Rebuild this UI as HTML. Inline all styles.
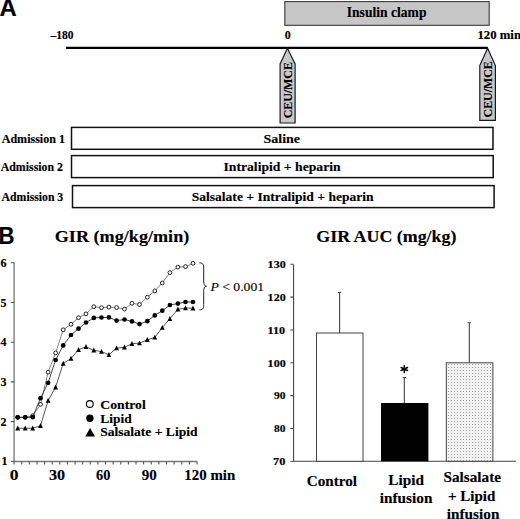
<!DOCTYPE html>
<html><head><meta charset="utf-8"><style>
html,body{margin:0;padding:0;background:#fff;width:520px;height:519px;overflow:hidden;}
svg{display:block;}
text{font-family:"Liberation Serif",serif;font-weight:bold;fill:#000;stroke:#000;stroke-width:0.15px;}
text.lbl{font-family:"Liberation Sans",sans-serif;}
</style></head><body>
<svg width="520" height="519" viewBox="0 0 520 519">
<defs><pattern id="dots" width="3" height="3" patternUnits="userSpaceOnUse"><rect width="3" height="3" fill="#f2f2f2"/><rect x="1" y="1" width="1" height="1" fill="#a4a4a4"/></pattern></defs>
<rect x="284.8" y="1.6" width="204.4" height="23.7" fill="#c6c6c6" stroke="#333" stroke-width="1.05"/>
<line x1="66" y1="47.9" x2="487.8" y2="47.9" stroke="#000" stroke-width="2.1"/>
<polygon points="287.4,48.3 295.1,63.9 295.1,123.0 280.1,123.0 280.1,63.9" fill="#c8c8c8" stroke="#1a1a1a" stroke-width="1.2"/>
<polygon points="487.6,48.3 495.4,65.6 495.4,120.4 479.8,120.4 479.8,65.6" fill="#c8c8c8" stroke="#1a1a1a" stroke-width="1.2"/>
<text transform="translate(291.6,118.3) rotate(-90) scale(1.036,1)" font-size="11.5">CEU/MCE</text>
<text transform="translate(491.8,117.4) rotate(-90) scale(1.034,1)" font-size="11.5">CEU/MCE</text>
<rect x="71.5" y="127.4" width="421.5" height="21.9" fill="#fff" stroke="#111" stroke-width="1.5"/>
<rect x="71.5" y="155.6" width="421.7" height="22.0" fill="#fff" stroke="#111" stroke-width="1.5"/>
<rect x="72.5" y="185.6" width="421.6" height="22.0" fill="#fff" stroke="#111" stroke-width="1.5"/>
<path d="M14.1,262.5 V461.5 H197.2" fill="none" stroke="#777" stroke-width="1.3"/>
<path d="M10.8,461.3H14.2 M10.8,421.6H14.2 M10.8,381.9H14.2 M10.8,342.2H14.2 M10.8,302.5H14.2 M10.8,262.8H14.2 M14.1,461.5V464.5 M21.7,461.5V464.5 M29.3,461.5V464.5 M37.0,461.5V464.5 M44.6,461.5V464.5 M52.2,461.5V464.5 M59.8,461.5V464.5 M67.4,461.5V464.5 M75.1,461.5V464.5 M82.7,461.5V464.5 M90.3,461.5V464.5 M97.9,461.5V464.5 M105.5,461.5V464.5 M113.2,461.5V464.5 M120.8,461.5V464.5 M128.4,461.5V464.5 M136.0,461.5V464.5 M143.6,461.5V464.5 M151.3,461.5V464.5 M158.9,461.5V464.5 M166.5,461.5V464.5 M174.1,461.5V464.5 M181.7,461.5V464.5 M189.4,461.5V464.5 M197.0,461.5V464.5" stroke="#555" stroke-width="1.1" fill="none"/>
<polyline points="17.7,417.3 25.2,417.3 32.7,415.8 40.5,404.4 48.1,372.1 55.6,352.9 63.2,329.8 71.0,324.3 78.5,317.7 86.0,313.9 93.8,306.7 101.5,307.7 108.9,307.1 116.6,307.6 124.5,309.1 132.0,303.3 139.5,304.5 147.3,297.2 154.8,290.9 162.3,283.0 169.9,272.6 177.9,267.1 185.5,266.6 193.0,263.3" fill="none" stroke="#777" stroke-width="0.9"/>
<polyline points="17.7,417.3 25.2,417.3 32.7,417.2 40.5,398.2 48.1,382.8 55.6,360.0 63.2,345.4 71.0,335.0 78.5,328.7 86.0,322.5 93.8,317.9 101.5,317.5 108.9,317.4 116.6,320.6 124.5,319.5 132.0,321.4 139.5,324.1 147.3,321.2 154.8,315.4 162.3,310.7 169.9,305.0 177.9,303.6 185.5,302.0 193.0,302.0" fill="none" stroke="#333" stroke-width="0.9"/>
<polyline points="17.7,428.2 25.2,428.2 32.7,428.2 40.5,425.8 48.1,400.5 55.6,387.2 63.2,363.5 71.0,358.5 78.5,349.7 86.0,346.8 93.8,350.3 101.5,351.6 108.9,354.7 116.6,348.1 124.5,347.3 132.0,343.7 139.5,343.1 147.3,339.8 154.8,337.4 162.3,327.6 169.9,318.7 177.9,309.3 185.5,308.0 193.0,308.2" fill="none" stroke="#444" stroke-width="0.9"/>
<circle cx="17.7" cy="417.3" r="1.9" fill="#fff" stroke="#000" stroke-width="0.85"/>
<circle cx="25.2" cy="417.3" r="1.9" fill="#fff" stroke="#000" stroke-width="0.85"/>
<circle cx="32.7" cy="415.8" r="1.9" fill="#fff" stroke="#000" stroke-width="0.85"/>
<circle cx="40.5" cy="404.4" r="1.9" fill="#fff" stroke="#000" stroke-width="0.85"/>
<circle cx="48.1" cy="372.1" r="1.9" fill="#fff" stroke="#000" stroke-width="0.85"/>
<circle cx="55.6" cy="352.9" r="1.9" fill="#fff" stroke="#000" stroke-width="0.85"/>
<circle cx="63.2" cy="329.8" r="1.9" fill="#fff" stroke="#000" stroke-width="0.85"/>
<circle cx="71.0" cy="324.3" r="1.9" fill="#fff" stroke="#000" stroke-width="0.85"/>
<circle cx="78.5" cy="317.7" r="1.9" fill="#fff" stroke="#000" stroke-width="0.85"/>
<circle cx="86.0" cy="313.9" r="1.9" fill="#fff" stroke="#000" stroke-width="0.85"/>
<circle cx="93.8" cy="306.7" r="1.9" fill="#fff" stroke="#000" stroke-width="0.85"/>
<circle cx="101.5" cy="307.7" r="1.9" fill="#fff" stroke="#000" stroke-width="0.85"/>
<circle cx="108.9" cy="307.1" r="1.9" fill="#fff" stroke="#000" stroke-width="0.85"/>
<circle cx="116.6" cy="307.6" r="1.9" fill="#fff" stroke="#000" stroke-width="0.85"/>
<circle cx="124.5" cy="309.1" r="1.9" fill="#fff" stroke="#000" stroke-width="0.85"/>
<circle cx="132.0" cy="303.3" r="1.9" fill="#fff" stroke="#000" stroke-width="0.85"/>
<circle cx="139.5" cy="304.5" r="1.9" fill="#fff" stroke="#000" stroke-width="0.85"/>
<circle cx="147.3" cy="297.2" r="1.9" fill="#fff" stroke="#000" stroke-width="0.85"/>
<circle cx="154.8" cy="290.9" r="1.9" fill="#fff" stroke="#000" stroke-width="0.85"/>
<circle cx="162.3" cy="283.0" r="1.9" fill="#fff" stroke="#000" stroke-width="0.85"/>
<circle cx="169.9" cy="272.6" r="1.9" fill="#fff" stroke="#000" stroke-width="0.85"/>
<circle cx="177.9" cy="267.1" r="1.9" fill="#fff" stroke="#000" stroke-width="0.85"/>
<circle cx="185.5" cy="266.6" r="1.9" fill="#fff" stroke="#000" stroke-width="0.85"/>
<circle cx="193.0" cy="263.3" r="1.9" fill="#fff" stroke="#000" stroke-width="0.85"/>
<circle cx="17.7" cy="417.3" r="2.35" fill="#000"/>
<circle cx="25.2" cy="417.3" r="2.35" fill="#000"/>
<circle cx="32.7" cy="417.2" r="2.35" fill="#000"/>
<circle cx="40.5" cy="398.2" r="2.35" fill="#000"/>
<circle cx="48.1" cy="382.8" r="2.35" fill="#000"/>
<circle cx="55.6" cy="360.0" r="2.35" fill="#000"/>
<circle cx="63.2" cy="345.4" r="2.35" fill="#000"/>
<circle cx="71.0" cy="335.0" r="2.35" fill="#000"/>
<circle cx="78.5" cy="328.7" r="2.35" fill="#000"/>
<circle cx="86.0" cy="322.5" r="2.35" fill="#000"/>
<circle cx="93.8" cy="317.9" r="2.35" fill="#000"/>
<circle cx="101.5" cy="317.5" r="2.35" fill="#000"/>
<circle cx="108.9" cy="317.4" r="2.35" fill="#000"/>
<circle cx="116.6" cy="320.6" r="2.35" fill="#000"/>
<circle cx="124.5" cy="319.5" r="2.35" fill="#000"/>
<circle cx="132.0" cy="321.4" r="2.35" fill="#000"/>
<circle cx="139.5" cy="324.1" r="2.35" fill="#000"/>
<circle cx="147.3" cy="321.2" r="2.35" fill="#000"/>
<circle cx="154.8" cy="315.4" r="2.35" fill="#000"/>
<circle cx="162.3" cy="310.7" r="2.35" fill="#000"/>
<circle cx="169.9" cy="305.0" r="2.35" fill="#000"/>
<circle cx="177.9" cy="303.6" r="2.35" fill="#000"/>
<circle cx="185.5" cy="302.0" r="2.35" fill="#000"/>
<circle cx="193.0" cy="302.0" r="2.35" fill="#000"/>
<polygon points="17.7,425.5 20.1,430.4 15.3,430.4" fill="#000"/>
<polygon points="25.2,425.5 27.6,430.4 22.8,430.4" fill="#000"/>
<polygon points="32.7,425.5 35.1,430.4 30.3,430.4" fill="#000"/>
<polygon points="40.5,423.1 42.9,428.0 38.1,428.0" fill="#000"/>
<polygon points="48.1,397.8 50.5,402.7 45.7,402.7" fill="#000"/>
<polygon points="55.6,384.5 58.0,389.4 53.2,389.4" fill="#000"/>
<polygon points="63.2,360.8 65.6,365.7 60.8,365.7" fill="#000"/>
<polygon points="71.0,355.8 73.4,360.7 68.6,360.7" fill="#000"/>
<polygon points="78.5,347.0 80.9,351.9 76.1,351.9" fill="#000"/>
<polygon points="86.0,344.1 88.4,349.0 83.6,349.0" fill="#000"/>
<polygon points="93.8,347.6 96.2,352.5 91.4,352.5" fill="#000"/>
<polygon points="101.5,348.9 103.9,353.8 99.1,353.8" fill="#000"/>
<polygon points="108.9,352.0 111.3,356.9 106.5,356.9" fill="#000"/>
<polygon points="116.6,345.4 119.0,350.3 114.2,350.3" fill="#000"/>
<polygon points="124.5,344.6 126.9,349.5 122.1,349.5" fill="#000"/>
<polygon points="132.0,341.0 134.4,345.9 129.6,345.9" fill="#000"/>
<polygon points="139.5,340.4 141.9,345.3 137.1,345.3" fill="#000"/>
<polygon points="147.3,337.1 149.7,342.0 144.9,342.0" fill="#000"/>
<polygon points="154.8,334.7 157.2,339.6 152.4,339.6" fill="#000"/>
<polygon points="162.3,324.9 164.7,329.8 159.9,329.8" fill="#000"/>
<polygon points="169.9,316.0 172.3,320.9 167.5,320.9" fill="#000"/>
<polygon points="177.9,306.6 180.3,311.5 175.5,311.5" fill="#000"/>
<polygon points="185.5,305.3 187.9,310.2 183.1,310.2" fill="#000"/>
<polygon points="193.0,305.5 195.4,310.4 190.6,310.4" fill="#000"/>
<path d="M199.4,262.9 C203.5,262.9 203.7,265 203.7,268 V281 C203.7,284.5 204.5,286 206.6,286.2 C204.5,286.4 203.7,288 203.7,291.5 V304.5 C203.7,308 203.5,309.8 199.4,309.8" fill="none" stroke="#222" stroke-width="1"/>
<circle cx="89.8" cy="404" r="3.4" fill="#fff" stroke="#000" stroke-width="1.1"/>
<circle cx="89.9" cy="418.3" r="3.7" fill="#000"/>
<polygon points="90.1,427.9 95,436.5 85.2,436.5" fill="#000"/>
<path d="M293.6,264.5 V461.3 H516.2" fill="none" stroke="#444" stroke-width="1.1"/>
<path d="M290.4,461.3H293.6 M290.4,428.5H293.6 M290.4,395.6H293.6 M290.4,362.8H293.6 M290.4,330.0H293.6 M290.4,297.1H293.6 M290.4,264.3H293.6" stroke="#444" stroke-width="1.1"/>
<path d="M339.6,333 V292.5 M337.9,292.5 H341.3" stroke="#444" stroke-width="1.1"/>
<rect x="316.5" y="333" width="46.5" height="128.3" fill="#fff" stroke="#444" stroke-width="1"/>
<path d="M404.3,403 V377.5 M402.6,377.5 H406.1" stroke="#444" stroke-width="1.1"/>
<rect x="381" y="403" width="47.4" height="58.3" fill="#000"/>
<path d="M404.3,365.4V372.6 M401.1,367.5L407.5,370.5 M401.1,370.5L407.5,367.5" stroke="#000" stroke-width="1.5" stroke-linecap="round"/>
<path d="M469.3,362.8 V322.8 M467.6,322.8 H471" stroke="#444" stroke-width="1.1"/>
<rect x="446.3" y="362.8" width="46.6" height="98.5" fill="url(#dots)" stroke="#444" stroke-width="1"/>
<text transform="translate(-0.47,15.5) scale(1.0233,1)" font-size="23.3" class="lbl">A</text>
<text transform="translate(-1.53,244.1) scale(0.9643,1)" font-size="23.0" class="lbl">B</text>
<text transform="translate(346.76,17.0) scale(0.9381,1)" font-size="14.5" >Insulin clamp</text>
<text transform="translate(50.60,38.6)" font-size="11.5" >&#8211;180</text>
<text transform="translate(284.80,38.6) scale(1.0400,1)" font-size="11.5" >0</text>
<text transform="translate(477.39,38.5) scale(1.1105,1)" font-size="11.5" >120 min</text>
<text transform="translate(1.70,142.7) scale(1.0048,1)" font-size="12" >Admission 1</text>
<text transform="translate(0.70,171.2) scale(0.9889,1)" font-size="12" >Admission 2</text>
<text transform="translate(1.60,200.8) scale(0.9794,1)" font-size="12" >Admission 3</text>
<text transform="translate(263.46,143.2) scale(1.0382,1)" font-size="13.5" >Saline</text>
<text transform="translate(223.49,171.3) scale(1.0123,1)" font-size="13.5" >Intralipid + heparin</text>
<text transform="translate(191.69,201.3) scale(1.0056,1)" font-size="13.5" >Salsalate + Intralipid + heparin</text>
<text transform="translate(54.73,241.8) scale(1.0672,1)" font-size="17" >GIR (mg/kg/min)</text>
<text transform="translate(316.35,241.5) scale(1.0523,1)" font-size="17" >GIR AUC (mg/kg)</text>
<text transform="translate(210.38,290.9) scale(1.0160,1)" font-size="13.5" style="font-weight:normal"><tspan font-style="italic">P</tspan> &lt; 0.001</text>
<text transform="translate(100.24,408.7) scale(1.0571,1)" font-size="13" >Control</text>
<text transform="translate(100.26,423.1) scale(1.0379,1)" font-size="13" >Lipid</text>
<text transform="translate(100.26,436.2) scale(1.0413,1)" font-size="13" >Salsalate + Lipid</text>
<text transform="translate(9.87,479.8) scale(1.2333,1)" font-size="14.2" >0</text>
<text transform="translate(48.96,479.8) scale(1.1385,1)" font-size="14.2" >30</text>
<text transform="translate(96.00,479.8) scale(1.0143,1)" font-size="14.2" >60</text>
<text transform="translate(141.80,479.8) scale(1.0571,1)" font-size="14.2" >90</text>
<text transform="translate(184.35,479.8) scale(1.0489,1)" font-size="14.2" >120 min</text>
<text transform="translate(306.77,485.9) scale(1.0319,1)" font-size="14.7" >Control</text>
<text transform="translate(388.36,485.4) scale(1.0394,1)" font-size="14.7" >Lipid</text>
<text transform="translate(379.76,503.4) scale(1.0408,1)" font-size="14.7" >infusion</text>
<text transform="translate(443.57,482.3) scale(1.0333,1)" font-size="14.7" >Salsalate</text>
<text transform="translate(447.98,500.6) scale(1.0222,1)" font-size="14.7" >+ Lipid</text>
<text transform="translate(446.71,518.6) scale(1.0408,1)" font-size="14.7" >infusion</text>
<text transform="translate(1.50,465.4)" font-size="12" >1</text>
<text transform="translate(0.50,425.7)" font-size="12" >2</text>
<text transform="translate(0.50,386.0)" font-size="12" >3</text>
<text transform="translate(0.50,346.3)" font-size="12" >4</text>
<text transform="translate(0.50,306.6)" font-size="12" >5</text>
<text transform="translate(0.50,266.9)" font-size="12" >6</text>
<text transform="translate(273.12,465.15) scale(1.1778,1)" font-size="10.5" >70</text>
<text transform="translate(273.90,432.32) scale(1.1000,1)" font-size="10.5" >80</text>
<text transform="translate(273.90,399.49) scale(1.1000,1)" font-size="10.5" >90</text>
<text transform="translate(267.60,366.66) scale(1.1536,1)" font-size="10.5" >100</text>
<text transform="translate(267.60,333.83) scale(1.1536,1)" font-size="10.5" >110</text>
<text transform="translate(267.60,301.0) scale(1.1536,1)" font-size="10.5" >120</text>
<text transform="translate(267.60,268.17) scale(1.1536,1)" font-size="10.5" >130</text>
</svg></body></html>
